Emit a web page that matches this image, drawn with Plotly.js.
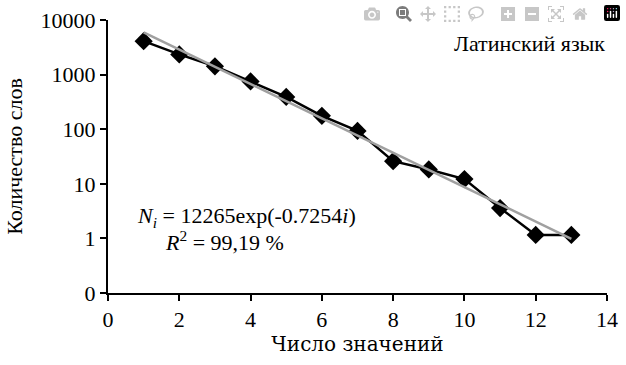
<!DOCTYPE html>
<html>
<head>
<meta charset="utf-8">
<script src="https://cdn.plot.ly/plotly-3.0.1.min.js"></script>
</head>
<body style="margin:0;background:#fff">
<div id="chart" style="width:626px;height:365px"></div>
<script>
// Data
const meanings = [1, 2, 3, 4, 5, 6, 7, 8, 9, 10, 11, 12, 13];
const wordCounts = [4100, 2340, 1420, 750, 390, 176, 93, 26, 18.3, 12.2, 3.6, 1.16, 1.16];
// Exponential trend line endpoints (N = 12265 exp(-0.7254 i))
const trendX = [1, 13];
const trendY = [5937, 0.985];
// Tick labels
const yTickVals = [0.1, 1, 10, 100, 1000, 10000];
const yTickText = ['0', '1', '10', '100', '1000', '10000'];
const xTickVals = [0, 2, 4, 6, 8, 10, 12, 14];
const xTickText = ['0', '2', '4', '6', '8', '10', '12', '14'];

const FS = 22;

const traces = [
  {
    x: meanings, y: wordCounts, type: 'scatter', mode: 'lines+markers',
    line: {color: '#000000', width: 2.5},
    marker: {symbol: 'diamond', size: 14, color: '#000000'},
    hoverinfo: 'skip'
  },
  {
    x: trendX, y: trendY, type: 'scatter', mode: 'lines',
    line: {color: '#a0a0a0', width: 2.5},
    hoverinfo: 'skip'
  }
];

const layout = {
  width: 626, height: 365,
  margin: {l: 108, r: 19, t: 20, b: 72, pad: 0},
  paper_bgcolor: '#ffffff', plot_bgcolor: '#ffffff',
  showlegend: false,
  xaxis: {
    range: [0, 14], tickmode: 'array', tickvals: xTickVals, ticktext: xTickText,
    showgrid: false, zeroline: false,
    showline: true, linecolor: '#000000', linewidth: 2,
    ticks: 'outside', ticklen: 6, tickwidth: 2, tickcolor: '#000000',
    tickfont: {family: 'Liberation Serif', size: FS, color: '#000000'},
    title: {text: 'Число значений', font: {family: 'DejaVu Serif', size: 20, color: '#000000'}, standoff: 4}
  },
  yaxis: {
    type: 'log', range: [-1, 4], tickmode: 'array', tickvals: yTickVals, ticktext: yTickText,
    showgrid: false, zeroline: false,
    showline: true, linecolor: '#000000', linewidth: 2,
    ticks: 'outside', ticklen: 6, tickwidth: 2, tickcolor: '#000000',
    tickfont: {family: 'serif', size: FS, color: '#000000'},
    title: {text: 'Количество слов', font: {family: 'Times New Roman', size: FS, color: '#000000'}, standoff: 12}
  },
  annotations: [
    {xref: 'paper', yref: 'paper', x: 1.0, y: 0.915, xanchor: 'right', yanchor: 'middle',
     text: 'Латинский язык', showarrow: false, font: {family: 'Liberation Serif', size: FS, color: '#000000'}},
    {xref: 'paper', yref: 'paper', x: 0.054, y: 0.28, xanchor: 'left', yanchor: 'middle',
     text: '<i>N</i><sub><i>i</i></sub> = 12265exp(-0.7254<i>i</i>)', showarrow: false,
     font: {family: 'Liberation Serif', size: FS, color: '#000000'}},
    {xref: 'paper', yref: 'paper', x: 0.11, y: 0.19, xanchor: 'left', yanchor: 'middle',
     text: '<i>R</i><sup>2</sup> = 99,19 %', showarrow: false,
     font: {family: 'Liberation Serif', size: FS, color: '#000000'}}
  ]
};

Plotly.newPlot('chart', traces, layout);
</script>
</body>
</html>
